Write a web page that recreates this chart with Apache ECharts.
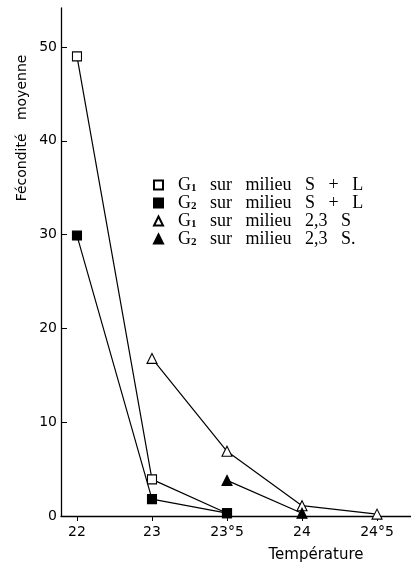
<!DOCTYPE html>
<html>
<head>
<meta charset="utf-8">
<script src="https://cdn.jsdelivr.net/npm/echarts@6/dist/echarts.min.js"></script>
<style>
  html, body { margin: 0; padding: 0; background: #fff; }
  #chart { width: 411px; height: 564px; }
</style>
</head>
<body>
<div id="chart"></div>
<script>
// Temperature categories (equally spaced on the original axis)
const temperatureLabels = ['22', '23', '23°5', '24', '24°5'];
const yTickValues = [0, 10, 20, 30, 40, 50];

// Series names
const seriesNames = [
  'G1 sur milieu S + L',
  'G2 sur milieu S + L',
  'G1 sur milieu 2,3 S',
  'G2 sur milieu 2,3 S.'
];

// Fécondité moyenne values by temperature index (null = no point)
const g1SL   = [49, 3.9, 0.3, null, null];
const g2SL   = [29.9, 1.8, 0.3, null, null];
const g1S23  = [null, 16.8, 6.9, 1.1, 0.2];
const g2S23  = [null, null, 3.8, 0.3, null];

function toPairs(arr) {
  const out = [];
  arr.forEach((v, i) => { if (v !== null) out.push([i, v]); });
  return out;
}

const chart = echarts.init(document.getElementById('chart'), null, { renderer: 'canvas' });

const axisFont = 'DejaVu Sans';
const serif = 'Liberation Serif';

const symbolDefs = [
  { symbol: 'rect', size: 9, fill: '#fff' },
  { symbol: 'rect', size: 9, fill: '#000' },
  { symbol: 'triangle', size: 10, fill: '#fff' },
  { symbol: 'triangle', size: 10, fill: '#000' }
];
const seriesData = [g1SL, g2SL, g1S23, g2S23];

const option = {
  animation: false,
  backgroundColor: '#fff',
  grid: { left: 61, right: 0, top: 8, bottom: 48, containLabel: false },
  xAxis: {
    type: 'value',
    min: -0.213,
    max: 4.453,
    splitLine: { show: false },
    axisLine: { show: true, onZero: false, lineStyle: { color: '#000', width: 1.3 } },
    axisTick: { show: true, inside: false, length: 5, customValues: [0, 1, 2, 3, 4], lineStyle: { color: '#000', width: 1 } },
    axisLabel: {
      show: true,
      customValues: [0, 1, 2, 3, 4],
      formatter: v => temperatureLabels[Math.round(v)],
      color: '#000',
      fontFamily: axisFont,
      fontSize: 14,
      margin: 9
    }
  },
  yAxis: {
    type: 'value',
    min: 0,
    max: 54.16,
    splitLine: { show: false },
    axisLine: { show: true, onZero: false, lineStyle: { color: '#000', width: 1.3 } },
    axisTick: { show: true, inside: true, length: 6, customValues: yTickValues, lineStyle: { color: '#000', width: 1 } },
    axisLabel: {
      show: true,
      customValues: yTickValues,
      color: '#000',
      fontFamily: axisFont,
      fontSize: 14,
      margin: 4
    }
  },
  legend: {
    orient: 'vertical',
    left: 148,
    top: 171,
    itemWidth: 9,
    itemHeight: 9,
    itemGap: 0,
    selectedMode: false,
    data: seriesNames.map((n, i) => ({ name: n, icon: symbolDefs[i].symbol })),
    formatter: function (name) {
      const g = name.charAt(0);
      const d = name.charAt(1);
      const rest = name.slice(2).split(' ').join('   ');
      return '{m|' + g + '}{s|' + d + '}{m|' + rest + '}';
    },
    textStyle: {
      color: '#000',
      padding: [0, 0, 0, 10],
      rich: {
        m: { fontFamily: serif, fontSize: 18, color: '#000', lineHeight: 18 },
        s: { fontFamily: serif, fontSize: 11, fontWeight: 'bold', color: '#000', lineHeight: 3, verticalAlign: 'bottom' }
      }
    }
  },
  graphic: [
    {
      type: 'text',
      x: 22,
      y: 128,
      rotation: Math.PI / 2,
      style: {
        text: 'Fécondité   moyenne',
        fontFamily: axisFont,
        fontSize: 14,
        fill: '#000',
        align: 'center',
        verticalAlign: 'middle'
      }
    },
    {
      type: 'text',
      x: 316,
      y: 555,
      style: {
        text: 'Température',
        fontFamily: axisFont,
        fontSize: 15,
        fill: '#000',
        align: 'center',
        verticalAlign: 'middle'
      }
    }
  ],
  series: seriesNames.map((n, i) => ({
    name: n,
    type: 'line',
    data: toPairs(seriesData[i]),
    symbol: symbolDefs[i].symbol,
    symbolSize: symbolDefs[i].size,
    showAllSymbol: true,
    lineStyle: { color: '#000', width: 1.2 },
    itemStyle: { color: symbolDefs[i].fill, borderColor: '#000', borderWidth: 1.1, opacity: 1 },
    emphasis: { disabled: true },
    z: 2 + i
  }))
};

chart.setOption(option);
</script>
</body>
</html>
